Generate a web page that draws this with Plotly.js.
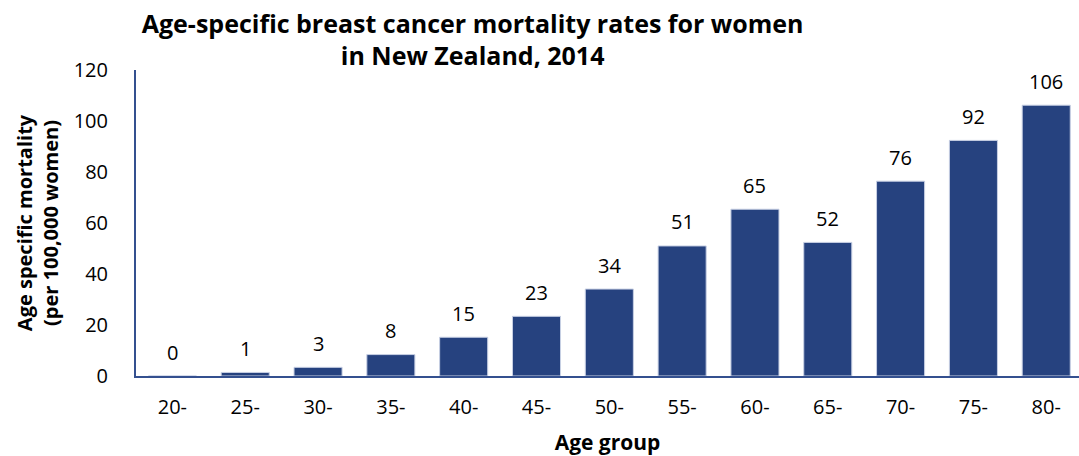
<!DOCTYPE html>
<html>
<head>
<meta charset="utf-8">
<script src="https://cdn.plot.ly/plotly-3.0.1.min.js"></script>
<style>html,body{margin:0;padding:0;background:#fff;}#chart{width:1079px;height:456px;}</style>
</head>
<body>
<div id="chart"></div>
<script>
const ageGroups = ["20-","25-","30-","35-","40-","45-","50-","55-","60-","65-","70-","75-","80-"];
const mortality = [0, 1.4, 3.4, 8.4, 15.2, 23.4, 34.1, 51.0, 65.4, 52.4, 76.4, 92.4, 106.2];
const yTicks = [0, 20, 40, 60, 80, 100, 120];

const FONT = "'Open Sans', 'Noto Sans', sans-serif";
const BAR = "#26427f";

const annotations = ageGroups.map((g, i) => ({
  x: g, y: mortality[i], xref: "x", yref: "y",
  text: String(Math.round(mortality[i])),
  showarrow: false, yanchor: "middle", yshift: 24,
  font: {family: FONT, size: 20, color: "#000"}
}));

const trace = {
  type: "bar",
  x: ageGroups,
  y: mortality,
  marker: {color: BAR, line: {color: "#c8d0e4", width: 1}},
  hoverinfo: "x+y"
};

const layout = {
  width: 1079, height: 456,
  margin: {l: 136, r: 0, t: 70, b: 80},
  paper_bgcolor: "#fff", plot_bgcolor: "#fff",
  showlegend: false,
  bargap: 0.34,
  font: {family: FONT, size: 20, color: "#000"},
  title: {
    text: "<b>Age-specific breast cancer mortality rates for women<br>in New Zealand, 2014</b>",
    xref: "container", x: 0.438, xanchor: "center",
    yref: "container", y: 0.928, yanchor: "top",
    font: {family: FONT, size: 25, color: "#000"}
  },
  xaxis: {
    type: "category",
    range: [-0.5, 12.45],
    showline: true, linecolor: "#34508f", linewidth: 2,
    ticks: "", showgrid: false, zeroline: false,
    ticklabelstandoff: 12,
    tickfont: {family: FONT, size: 20, color: "#000"},
    title: {text: "<b>Age group</b>", standoff: 18, font: {family: FONT, size: 21, color: "#000"}}
  },
  yaxis: {
    range: [0, 120],
    tickvals: yTicks,
    showline: true, linecolor: "#34508f", linewidth: 2,
    ticks: "", showgrid: false, zeroline: false,
    ticklabelstandoff: 22,
    tickfont: {family: FONT, size: 20, color: "#000"},
    title: {text: "<b>Age specific mortality<br>(per 100,000 women)</b>", standoff: 10, font: {family: FONT, size: 20, color: "#000"}}
  },
  annotations: annotations
};

Plotly.newPlot("chart", [trace], layout, {displayModeBar: false, staticPlot: true});
</script>
</body>
</html>
